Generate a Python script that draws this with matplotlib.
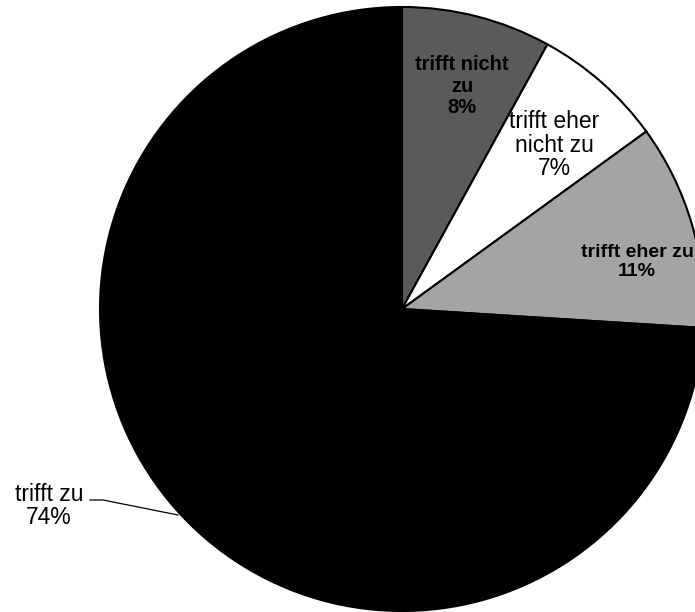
import matplotlib
matplotlib.use("Agg")
import matplotlib.pyplot as plt
from matplotlib import font_manager

categories = ["trifft nicht zu", "trifft eher nicht zu", "trifft eher zu", "trifft zu"]
values = [8, 7, 11, 74]
label_texts = ["trifft nicht\nzu\n8%", "trifft eher\nnicht zu\n7%", "trifft eher zu\n11%", "trifft zu\n74%"]
colors = ["#5a5a5a", "#ffffff", "#a4a4a4", "#000000"]

fig = plt.figure(figsize=(6.95, 6.12), dpi=100)
ax = fig.add_axes([0, 0, 1, 1])
ax.pie(values, colors=colors, startangle=90, counterclock=False,
       center=(402, 303), radius=302,
       wedgeprops=dict(edgecolor="black", linewidth=1.5))
ax.set_xlim(0, 695)
ax.set_ylim(0, 612)
ax.set_aspect("equal")
ax.axis("off")

norm = dict(family=["Liberation Sans"], fontsize=16.5, ha="center", va="center", linespacing=1.05)
bold = dict(family=["Liberation Sans"], fontsize=14.5, fontweight="bold", ha="center", va="center", linespacing=1.15)

ax.text(462, 526, label_texts[0], color="black", **bold)
ax.text(554, 467, label_texts[1], color="black", **norm)
ax.text(637, 350, label_texts[2], color="black", fontsize=14, **{k: v for k, v in bold.items() if k != "fontsize"})
ax.text(49, 106, label_texts[3], color="black", **norm)
ax.plot([90, 103, 178], [112, 112, 97], color="black", linewidth=0.9)

fig.savefig("out.png", dpi=100)
